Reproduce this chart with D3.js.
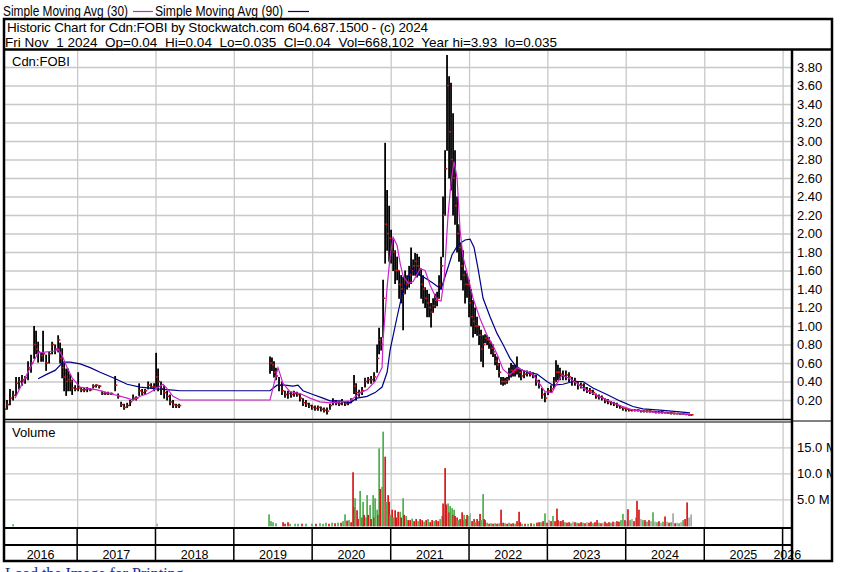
<!DOCTYPE html>
<html><head><meta charset="utf-8">
<script src="https://cdn.jsdelivr.net/npm/d3@7"></script>
<style>html,body{margin:0;padding:0;background:#fff;} svg{display:block;font-family:"Liberation Sans",Arial,sans-serif;}</style>
</head><body><svg id="c" width="841" height="572"></svg>
<script>
// ---------------- DATA ----------------
const title1 = "Historic Chart for Cdn:FOBI by Stockwatch.com 604.687.1500 - (c) 2024";
const title2 = "Fri Nov  1 2024  Op=0.04  Hi=0.04  Lo=0.035  Cl=0.04  Vol=668,102  Year hi=3.93  lo=0.035";
const legendLabels = ["Simple Moving Avg (30)", "Simple Moving Avg (90)"];
const symbolLabel = "Cdn:FOBI";
const volumeLabel = "Volume";
const footerLabel = "Load the Image for Printing";
const yearLabels = [2016, 2017, 2018, 2019, 2020, 2021, 2022, 2023, 2024, 2025, 2026];
const priceTicks = [0.2, 0.4, 0.6, 0.8, 1.0, 1.2, 1.4, 1.6, 1.8, 2.0, 2.2, 2.4, 2.6, 2.8, 3.0, 3.2, 3.4, 3.6, 3.8];
const volumeTicks = [5, 10, 15]; // millions

// [decimal year, high, low, close]
const priceBars = [
[2016.069,0.17,0.04,0.10],[2016.107,0.20,0.10,0.15],[2016.145,0.32,0.15,0.22],[2016.184,0.30,0.20,0.25],
[2016.222,0.45,0.25,0.38],[2016.260,0.45,0.32,0.40],[2016.298,0.47,0.36,0.42],[2016.337,0.46,0.38,0.44],
[2016.375,0.62,0.42,0.55],[2016.413,0.69,0.50,0.60],[2016.452,1.00,0.65,0.80],[2016.477,0.95,0.70,0.75],
[2016.503,0.83,0.61,0.72],[2016.541,0.72,0.62,0.68],[2016.566,0.95,0.62,0.70],[2016.605,0.69,0.52,0.60],
[2016.643,0.72,0.60,0.70],[2016.681,0.83,0.70,0.80],[2016.719,0.80,0.70,0.75],[2016.758,0.90,0.72,0.85],
[2016.783,0.82,0.60,0.65],[2016.809,0.76,0.44,0.55],[2016.834,0.60,0.30,0.45],[2016.860,0.54,0.25,0.40],
[2016.885,0.54,0.30,0.42],[2016.911,0.48,0.30,0.40],[2016.936,0.42,0.26,0.33],[2016.974,0.36,0.30,0.32],
[2017.013,0.50,0.30,0.33],[2017.051,0.34,0.29,0.31],[2017.089,0.33,0.29,0.31],[2017.128,0.34,0.29,0.32],
[2017.166,0.33,0.30,0.31],[2017.204,0.37,0.33,0.35],[2017.242,0.37,0.34,0.36],[2017.281,0.36,0.33,0.35],
[2017.319,0.30,0.26,0.27],[2017.357,0.29,0.26,0.27],[2017.395,0.29,0.26,0.27],[2017.434,0.28,0.26,0.27],
[2017.485,0.46,0.30,0.36],[2017.523,0.27,0.22,0.24],[2017.561,0.18,0.13,0.15],[2017.599,0.16,0.10,0.12],
[2017.638,0.17,0.12,0.14],[2017.676,0.20,0.14,0.18],[2017.714,0.26,0.20,0.22],[2017.753,0.24,0.20,0.22],
[2017.791,0.38,0.25,0.30],[2017.829,0.32,0.26,0.28],[2017.867,0.32,0.26,0.30],[2017.906,0.40,0.32,0.36],
[2017.944,0.38,0.33,0.34],[2017.982,0.38,0.30,0.34],[2018.008,0.71,0.34,0.45],[2018.033,0.54,0.30,0.40],
[2018.071,0.40,0.26,0.32],[2018.110,0.36,0.22,0.28],[2018.148,0.30,0.20,0.24],[2018.186,0.26,0.15,0.18],
[2018.224,0.20,0.12,0.15],[2018.263,0.16,0.12,0.14],[2018.301,0.16,0.12,0.14],
[2019.462,0.67,0.49,0.60],[2019.487,0.66,0.52,0.58],[2019.513,0.62,0.45,0.50],[2019.538,0.55,0.42,0.46],
[2019.577,0.45,0.30,0.36],[2019.615,0.40,0.26,0.30],[2019.653,0.30,0.23,0.26],[2019.691,0.30,0.22,0.27],
[2019.730,0.29,0.23,0.26],[2019.768,0.30,0.24,0.27],[2019.806,0.29,0.24,0.26],[2019.844,0.27,0.19,0.22],
[2019.883,0.22,0.14,0.17],[2019.921,0.20,0.13,0.16],[2019.959,0.17,0.12,0.14],[2019.997,0.15,0.10,0.12],
[2020.036,0.14,0.09,0.11],[2020.074,0.14,0.09,0.12],[2020.112,0.13,0.08,0.10],[2020.151,0.12,0.07,0.09],
[2020.189,0.12,0.05,0.08],[2020.227,0.16,0.10,0.14],[2020.265,0.22,0.15,0.19],[2020.304,0.20,0.15,0.17],
[2020.342,0.19,0.14,0.16],[2020.380,0.21,0.15,0.18],[2020.418,0.19,0.14,0.16],[2020.457,0.19,0.15,0.17],
[2020.495,0.22,0.17,0.20],[2020.533,0.47,0.27,0.35],[2020.559,0.38,0.20,0.28],[2020.597,0.31,0.24,0.28],
[2020.635,0.34,0.26,0.30],[2020.673,0.44,0.34,0.40],[2020.712,0.45,0.38,0.42],[2020.750,0.46,0.38,0.42],
[2020.788,0.50,0.40,0.45],[2020.827,0.80,0.50,0.65],[2020.852,0.98,0.70,0.85],[2020.878,0.88,0.74,0.80],
[2020.903,1.50,0.88,1.30],[2020.929,2.98,1.68,2.10],[2020.954,2.47,1.82,2.00],[2020.980,2.30,1.70,1.95],
[2021.005,2.04,1.68,1.85],[2021.031,1.95,1.60,1.80],[2021.056,1.82,1.46,1.60],[2021.082,1.75,1.50,1.60],
[2021.107,1.60,1.30,1.45],[2021.133,1.55,1.25,1.40],[2021.158,1.53,0.96,1.35],[2021.184,1.60,1.35,1.45],
[2021.209,1.55,1.40,1.48],[2021.235,1.65,1.42,1.55],[2021.260,1.85,1.46,1.60],[2021.286,1.72,1.55,1.65],
[2021.311,1.79,1.55,1.70],[2021.337,1.78,1.53,1.65],[2021.362,1.75,1.55,1.62],[2021.388,1.62,1.30,1.45],
[2021.413,1.55,1.25,1.40],[2021.439,1.42,1.20,1.30],[2021.464,1.39,1.10,1.25],[2021.490,1.35,1.10,1.20],
[2021.515,1.25,0.99,1.15],[2021.541,1.30,1.15,1.22],[2021.566,1.35,1.20,1.28],[2021.592,1.37,1.22,1.30],
[2021.617,1.55,1.30,1.45],[2021.643,1.75,1.40,1.65],[2021.668,2.40,1.75,2.20],[2021.694,2.90,2.20,2.70],
[2021.719,3.93,2.90,3.60],[2021.745,3.70,2.60,3.10],[2021.770,3.63,2.47,2.80],[2021.796,3.30,2.20,2.60],
[2021.821,2.90,2.10,2.30],[2021.847,2.40,1.80,2.00],[2021.872,2.10,1.70,1.85],[2021.898,1.90,1.50,1.65],
[2021.923,1.82,1.39,1.55],[2021.949,1.60,1.25,1.45],[2021.974,1.57,1.31,1.45],[2022.000,1.50,1.10,1.25],
[2022.026,1.40,1.00,1.10],[2022.051,1.28,0.88,1.05],[2022.077,1.20,0.92,1.00],[2022.102,1.10,0.90,1.00],
[2022.128,1.00,0.80,0.90],[2022.153,0.96,0.62,0.75],[2022.179,0.90,0.56,0.80],[2022.204,0.91,0.82,0.87],
[2022.230,0.90,0.80,0.85],[2022.255,0.88,0.76,0.82],[2022.281,0.83,0.70,0.76],[2022.306,0.80,0.67,0.72],
[2022.332,0.70,0.58,0.62],[2022.357,0.67,0.53,0.58],[2022.383,0.60,0.45,0.50],[2022.408,0.45,0.37,0.40],
[2022.434,0.45,0.36,0.40],[2022.459,0.44,0.37,0.40],[2022.485,0.45,0.38,0.42],[2022.510,0.55,0.42,0.48],
[2022.536,0.60,0.45,0.52],[2022.561,0.58,0.46,0.50],[2022.587,0.58,0.46,0.52],[2022.612,0.67,0.48,0.55],
[2022.638,0.55,0.45,0.50],[2022.663,0.53,0.42,0.46],[2022.702,0.52,0.44,0.48],[2022.740,0.52,0.46,0.49],
[2022.778,0.51,0.46,0.48],[2022.816,0.50,0.44,0.46],[2022.855,0.47,0.36,0.40],[2022.893,0.42,0.33,0.36],
[2022.931,0.33,0.22,0.26],[2022.969,0.28,0.18,0.22],[2023.008,0.33,0.26,0.30],[2023.046,0.36,0.28,0.32],
[2023.084,0.45,0.33,0.40],[2023.110,0.63,0.40,0.50],[2023.135,0.58,0.42,0.50],[2023.161,0.55,0.42,0.48],
[2023.199,0.52,0.42,0.46],[2023.237,0.52,0.42,0.47],[2023.276,0.50,0.40,0.45],[2023.314,0.45,0.36,0.40],
[2023.352,0.44,0.36,0.40],[2023.390,0.40,0.32,0.36],[2023.429,0.39,0.33,0.36],[2023.467,0.38,0.30,0.33],
[2023.505,0.34,0.28,0.30],[2023.543,0.33,0.27,0.30],[2023.582,0.31,0.26,0.28],[2023.620,0.27,0.22,0.24],
[2023.658,0.26,0.21,0.23],[2023.696,0.25,0.20,0.22],[2023.735,0.22,0.17,0.19],[2023.773,0.21,0.16,0.18],
[2023.811,0.19,0.15,0.17],[2023.849,0.18,0.14,0.16],[2023.888,0.17,0.12,0.14],[2023.926,0.14,0.11,0.12],
[2023.964,0.12,0.09,0.11],[2024.003,0.11,0.08,0.10],[2024.041,0.10,0.08,0.09],[2024.079,0.10,0.08,0.09],
[2024.117,0.10,0.08,0.09],[2024.156,0.10,0.08,0.09],[2024.194,0.09,0.07,0.08],[2024.232,0.09,0.07,0.08],
[2024.270,0.09,0.07,0.08],[2024.309,0.09,0.07,0.08],[2024.347,0.08,0.07,0.075],[2024.385,0.08,0.06,0.07],
[2024.423,0.08,0.06,0.07],[2024.462,0.08,0.06,0.07],[2024.500,0.07,0.06,0.065],[2024.538,0.07,0.055,0.06],
[2024.577,0.07,0.05,0.06],[2024.615,0.065,0.05,0.055],[2024.653,0.06,0.05,0.055],[2024.691,0.06,0.045,0.05],
[2024.730,0.055,0.045,0.05],[2024.768,0.05,0.04,0.045],[2024.806,0.05,0.035,0.04],[2024.835,0.045,0.035,0.04]
];

// Simple moving average (30) [decimal year, value]
const sma30 = [
[2016.209,0.22],[2016.362,0.48],[2016.503,0.71],[2016.719,0.73],[2016.758,0.75],[2016.809,0.68],
[2016.872,0.55],[2016.936,0.44],[2017.038,0.34],[2017.255,0.31],[2017.421,0.27],[2017.638,0.22],
[2017.714,0.20],[2017.804,0.24],[2017.906,0.27],[2018.020,0.33],[2018.097,0.37],[2018.161,0.31],
[2018.224,0.24],[2018.314,0.20],[2019.462,0.20],[2019.564,0.55],[2019.628,0.38],[2019.717,0.29],
[2019.844,0.27],[2019.972,0.22],[2020.099,0.18],[2020.227,0.17],[2020.355,0.18],[2020.482,0.19],
[2020.610,0.28],[2020.699,0.31],[2020.801,0.40],[2020.890,0.55],[2020.903,0.85],[2020.954,1.42],
[2020.992,1.75],[2021.031,1.96],[2021.082,1.87],[2021.120,1.68],[2021.158,1.54],[2021.222,1.46],
[2021.286,1.48],[2021.375,1.62],[2021.439,1.60],[2021.503,1.44],[2021.592,1.28],[2021.643,1.27],
[2021.681,1.50],[2021.732,2.20],[2021.770,2.55],[2021.809,2.78],[2021.847,2.60],[2021.885,2.04],
[2021.923,1.75],[2021.987,1.53],[2022.051,1.30],[2022.140,1.08],[2022.230,0.90],[2022.306,0.79],
[2022.370,0.67],[2022.434,0.53],[2022.523,0.47],[2022.612,0.55],[2022.689,0.52],[2022.804,0.49],
[2022.880,0.40],[2022.969,0.29],[2023.059,0.28],[2023.122,0.38],[2023.186,0.47],[2023.288,0.43],
[2023.378,0.38],[2023.454,0.33],[2023.582,0.27],[2023.709,0.22],[2023.837,0.17],[2023.964,0.13],
[2024.092,0.09],[2024.270,0.075],[2024.436,0.063],[2024.602,0.056],[2024.819,0.045]
];

// Simple moving average (90) [decimal year, value]
const sma90 = [
[2016.503,0.43],[2016.617,0.48],[2016.719,0.52],[2016.821,0.61],[2016.911,0.61],[2017.038,0.59],
[2017.166,0.55],[2017.293,0.50],[2017.459,0.44],[2017.638,0.37],[2017.804,0.34],[2018.020,0.32],
[2018.186,0.31],[2018.314,0.30],[2019.462,0.30],[2019.551,0.36],[2019.653,0.36],[2019.755,0.35],
[2019.819,0.36],[2019.883,0.30],[2020.010,0.26],[2020.138,0.22],[2020.227,0.19],[2020.355,0.19],
[2020.482,0.17],[2020.571,0.22],[2020.699,0.24],[2020.801,0.28],[2020.890,0.34],[2020.954,0.50],
[2020.992,0.74],[2021.082,1.10],[2021.158,1.39],[2021.222,1.53],[2021.273,1.62],[2021.337,1.57],
[2021.439,1.52],[2021.528,1.47],[2021.643,1.40],[2021.719,1.60],[2021.783,1.77],[2021.860,1.88],
[2021.949,1.93],[2022.013,1.94],[2022.064,1.85],[2022.115,1.62],[2022.179,1.30],[2022.268,1.10],
[2022.357,0.92],[2022.434,0.80],[2022.523,0.65],[2022.612,0.55],[2022.740,0.50],[2022.867,0.48],
[2022.995,0.40],[2023.071,0.36],[2023.199,0.37],[2023.327,0.40],[2023.454,0.40],[2023.582,0.33],
[2023.760,0.26],[2023.926,0.19],[2024.092,0.13],[2024.219,0.105],[2024.436,0.09],[2024.653,0.075],
[2024.819,0.06]
];

// Volume [decimal year, millions of shares, direction: u=up, d=down, n=unchanged]
const volumeBars = [
[2016.184,0.2,"u"],[2018.020,0.3,"n"],
[2019.449,2.1,"u"],[2019.474,0.8,"u"],[2019.500,0.6,"u"],[2019.538,0.4,"u"],[2019.628,0.6,"d"],[2019.653,0.3,"d"],
[2019.691,0.6,"d"],[2019.717,0.3,"u"],[2019.781,0.3,"u"],[2019.819,0.3,"u"],[2019.870,0.3,"d"],[2019.921,0.3,"u"],
[2019.997,0.3,"u"],[2020.048,0.3,"d"],[2020.099,0.4,"u"],[2020.138,0.3,"u"],[2020.176,0.5,"u"],[2020.214,0.3,"d"],
[2020.253,0.5,"u"],[2020.291,0.4,"d"],[2020.329,0.5,"u"],[2020.367,0.5,"d"],[2020.393,0.8,"u"],[2020.418,2.1,"u"],
[2020.444,0.9,"d"],[2020.469,1.0,"u"],[2020.495,0.6,"d"],[2020.520,10.2,"d"],[2020.533,3.5,"d"],[2020.546,5.2,"u"],
[2020.571,2.9,"d"],[2020.584,1.2,"d"],[2020.610,6.6,"u"],[2020.635,1.5,"d"],[2020.648,4.5,"u"],[2020.661,2.0,"d"],
[2020.686,1.5,"u"],[2020.699,5.8,"u"],[2020.712,2.0,"d"],[2020.737,3.9,"u"],[2020.750,1.2,"d"],[2020.776,5.8,"u"],
[2020.788,1.5,"d"],[2020.801,5.2,"u"],[2020.827,3.0,"u"],[2020.839,2.0,"d"],[2020.852,14.8,"u"],[2020.865,7.0,"d"],
[2020.890,7.4,"u"],[2020.903,18.0,"u"],[2020.929,13.2,"d"],[2020.941,4.5,"u"],[2020.967,5.8,"d"],[2020.980,4.5,"d"],
[2020.992,2.0,"u"],[2021.018,3.0,"d"],[2021.031,1.5,"u"],[2021.056,2.9,"d"],[2021.069,1.5,"d"],[2021.094,2.6,"d"],
[2021.120,2.6,"u"],[2021.133,1.5,"d"],[2021.158,5.2,"u"],[2021.171,2.0,"d"],[2021.196,1.8,"u"],[2021.222,1.0,"d"],
[2021.247,1.0,"d"],[2021.273,1.3,"u"],[2021.298,0.8,"d"],[2021.324,1.2,"d"],[2021.349,0.8,"u"],[2021.375,1.2,"d"],
[2021.401,1.0,"d"],[2021.426,0.7,"u"],[2021.452,1.0,"d"],[2021.477,1.2,"u"],[2021.503,0.6,"d"],[2021.528,1.0,"d"],
[2021.554,0.8,"u"],[2021.579,1.0,"d"],[2021.605,0.8,"d"],[2021.630,1.2,"u"],[2021.656,1.8,"u"],[2021.668,4.2,"d"],
[2021.694,11.0,"d"],[2021.707,4.0,"d"],[2021.732,4.2,"u"],[2021.745,2.5,"d"],[2021.758,3.7,"u"],[2021.783,3.3,"u"],
[2021.796,2.0,"d"],[2021.809,3.0,"u"],[2021.821,1.8,"d"],[2021.847,1.5,"d"],[2021.860,1.0,"u"],[2021.885,1.2,"d"],
[2021.911,2.5,"d"],[2021.923,1.0,"d"],[2021.936,2.0,"u"],[2021.962,1.2,"d"],[2021.974,2.0,"d"],[2022.000,1.8,"u"],
[2022.013,2.3,"n"],[2022.038,0.8,"d"],[2022.064,1.2,"d"],[2022.077,0.6,"u"],[2022.102,1.2,"d"],[2022.128,0.8,"d"],
[2022.140,2.2,"d"],[2022.153,1.0,"u"],[2022.179,6.0,"u"],[2022.191,1.2,"d"],[2022.204,1.0,"d"],[2022.230,0.5,"u"],
[2022.255,0.3,"d"],[2022.281,0.4,"u"],[2022.306,0.3,"d"],[2022.332,0.4,"u"],[2022.357,0.3,"d"],[2022.383,0.4,"u"],
[2022.408,3.0,"d"],[2022.434,0.5,"d"],[2022.459,0.4,"u"],[2022.485,0.3,"d"],[2022.510,0.5,"u"],[2022.536,0.3,"d"],
[2022.561,0.4,"d"],[2022.587,0.3,"u"],[2022.612,0.8,"d"],[2022.638,2.6,"d"],[2022.651,0.6,"d"],[2022.676,0.3,"u"],
[2022.714,0.3,"d"],[2022.753,0.3,"u"],[2022.791,0.4,"d"],[2022.829,0.3,"u"],[2022.867,0.5,"d"],[2022.893,0.6,"d"],
[2022.918,0.6,"u"],[2022.944,0.8,"d"],[2022.969,2.3,"u"],[2022.995,0.5,"d"],[2023.020,1.0,"n"],[2023.046,0.8,"d"],
[2023.071,1.8,"u"],[2023.097,0.8,"d"],[2023.122,3.2,"d"],[2023.135,1.0,"d"],[2023.161,0.8,"u"],[2023.173,0.8,"d"],
[2023.199,1.0,"d"],[2023.224,0.6,"u"],[2023.250,0.5,"d"],[2023.276,0.6,"d"],[2023.301,0.4,"u"],[2023.327,0.7,"n"],
[2023.352,0.6,"d"],[2023.378,0.5,"u"],[2023.403,0.4,"d"],[2023.429,0.6,"d"],[2023.454,0.5,"u"],[2023.480,0.4,"d"],
[2023.505,0.6,"n"],[2023.531,0.5,"d"],[2023.556,0.7,"d"],[2023.582,0.4,"u"],[2023.607,0.6,"d"],[2023.633,1.0,"d"],
[2023.658,0.5,"u"],[2023.684,0.4,"d"],[2023.709,0.5,"n"],[2023.735,0.7,"d"],[2023.760,0.4,"d"],[2023.786,0.6,"d"],
[2023.811,0.5,"u"],[2023.837,0.7,"d"],[2023.862,0.6,"n"],[2023.888,0.8,"d"],[2023.913,0.7,"d"],[2023.939,1.0,"u"],
[2023.964,2.2,"u"],[2023.990,1.0,"d"],[2024.015,0.8,"n"],[2024.028,3.1,"d"],[2024.054,1.0,"u"],[2024.079,1.2,"n"],
[2024.105,0.8,"d"],[2024.130,1.5,"u"],[2024.143,4.7,"d"],[2024.168,3.0,"d"],[2024.194,1.2,"n"],[2024.219,1.0,"u"],
[2024.245,1.0,"d"],[2024.270,0.7,"u"],[2024.296,1.0,"d"],[2024.321,0.8,"n"],[2024.347,2.5,"u"],[2024.372,0.7,"n"],
[2024.398,0.6,"u"],[2024.423,0.8,"d"],[2024.449,0.5,"n"],[2024.474,0.7,"u"],[2024.500,1.7,"d"],[2024.526,0.7,"n"],
[2024.551,0.5,"d"],[2024.577,0.6,"u"],[2024.602,2.3,"n"],[2024.628,0.4,"d"],[2024.653,0.5,"n"],[2024.679,0.4,"u"],
[2024.704,0.6,"n"],[2024.730,1.0,"u"],[2024.755,1.2,"d"],[2024.781,4.4,"d"],[2024.806,1.5,"n"],[2024.832,2.1,"n"]
];

// ---------------- DRAW ----------------
const svg = d3.select("#c");
const W = 841, H = 572;
const L = 4, R = 792, RR = 832, TOP = 19, HDR = 50;
const P_BOT = 419.5, V_TOP = 422, V_BOT = 528, ROW2 = 545, BOT = 561;
const FONT = '"Liberation Sans", Arial, sans-serif';
const magenta = "#cc22cc", navy = "#000088";
const volColor = {u: "#4fae4f", d: "#d81818", n: "#a8a8a8"};
const gridColor = "#c8c8c8";

function yd(y) { const yr = Math.floor(y); const s = Date.UTC(yr,0,1), e = Date.UTC(yr+1,0,1); return new Date(s + (y-yr)*(e-s)); }

const x = d3.scaleUtc().domain([new Date(Date.UTC(2016,0,1)), new Date(Date.UTC(2026,0,1))]).range([-1.4, 782.6]);
const yP = d3.scaleLinear().domain([0, 4]).range([418.5, 48.5]);
const yV = d3.scaleLinear().domain([0, 20]).range([525.3, 421.3]);

svg.append("rect").attr("width", W).attr("height", H).attr("fill", "#fff");

const defs = svg.append("defs");
defs.append("clipPath").attr("id","cp").append("rect").attr("x",L+1).attr("y",HDR+1).attr("width",R-L-2).attr("height",P_BOT-HDR-1.5);
defs.append("clipPath").attr("id","cv").append("rect").attr("x",L+1).attr("y",V_TOP+1).attr("width",R-L-2).attr("height",V_BOT-V_TOP-2);
defs.append("clipPath").attr("id","cr").append("rect").attr("x",R+1).attr("y",HDR).attr("width",RR-R-2).attr("height",BOT-HDR);

const yearBounds = yearLabels.slice(1).map(y => new Date(Date.UTC(y,0,1)));

// Grid: price panel
const gP = svg.append("g").attr("clip-path","url(#cp)");
gP.append("g").attr("transform",`translate(${R},0)`)
  .call(d3.axisLeft(yP).tickValues(priceTicks).tickSize(R-L).tickFormat(""))
  .call(g => g.select(".domain").remove())
  .call(g => g.selectAll("line").attr("stroke",gridColor).attr("stroke-width",1.3));
gP.append("g").attr("transform",`translate(0,${P_BOT})`)
  .call(d3.axisTop(x).tickValues(yearBounds).tickSize(P_BOT-HDR).tickFormat(""))
  .call(g => g.select(".domain").remove())
  .call(g => g.selectAll("line").attr("stroke",gridColor).attr("stroke-width",1.3));

// Grid: volume panel
const gV = svg.append("g").attr("clip-path","url(#cv)");
gV.append("g").attr("transform",`translate(${R},0)`)
  .call(d3.axisLeft(yV).tickValues(volumeTicks).tickSize(R-L).tickFormat(""))
  .call(g => g.select(".domain").remove())
  .call(g => g.selectAll("line").attr("stroke",gridColor).attr("stroke-width",1.3));
gV.append("g").attr("transform",`translate(0,${V_BOT})`)
  .call(d3.axisTop(x).tickValues(yearBounds).tickSize(V_BOT-V_TOP).tickFormat(""))
  .call(g => g.select(".domain").remove())
  .call(g => g.selectAll("line").attr("stroke",gridColor).attr("stroke-width",1.3));

// Price bars
gP.append("g").selectAll("line").data(priceBars).join("line")
  .attr("x1", d => x(yd(d[0]))).attr("x2", d => x(yd(d[0])))
  .attr("y1", d => yP(d[1])).attr("y2", d => yP(d[2]) + 0.5)
  .attr("stroke", "#000").attr("stroke-width", 1.8);
gP.append("g").selectAll("line").data(priceBars).join("line")
  .attr("x1", d => x(yd(d[0]))).attr("x2", d => x(yd(d[0])) + 2.2)
  .attr("y1", d => yP(d[3])).attr("y2", d => yP(d[3]))
  .attr("stroke", "#c81414").attr("stroke-width", 1.6);

// Moving averages
const line = d3.line().x(d => x(yd(d[0]))).y(d => yP(d[1]));
gP.append("path").datum(sma90).attr("d", line).attr("fill","none").attr("stroke",navy).attr("stroke-width",1.2);
gP.append("path").datum(sma30).attr("d", line).attr("fill","none").attr("stroke",magenta).attr("stroke-width",1.2);

// Volume bars
gV.append("g").selectAll("rect").data(volumeBars).join("rect")
  .attr("x", d => x(yd(d[0])) - 0.8).attr("width", 1.7)
  .attr("y", d => yV(d[1])).attr("height", d => yV(0) - yV(d[1]) + 1)
  .attr("fill", d => volColor[d[2]]);

// Right axes
const gR = svg.append("g").attr("clip-path","url(#cr)");
gR.append("g").attr("transform",`translate(${R},0)`)
  .call(d3.axisRight(yP).tickValues(priceTicks).tickFormat(d3.format(".2f")).tickSize(0).tickPadding(5))
  .call(g => g.select(".domain").remove())
  .call(g => g.selectAll("text").attr("font-family",FONT).attr("font-size",13).attr("fill","#000"));
gR.append("g").attr("transform",`translate(${R},0)`)
  .call(d3.axisRight(yV).tickValues(volumeTicks).tickFormat(d => d3.format(".1f")(d) + " M").tickSize(0).tickPadding(5))
  .call(g => g.select(".domain").remove())
  .call(g => g.selectAll("text").attr("font-family",FONT).attr("font-size",13).attr("fill","#000"));

// Frame lines
const fr = svg.append("g").attr("stroke","#000").attr("fill","none");
fr.append("rect").attr("x",L).attr("y",TOP).attr("width",RR-L).attr("height",BOT-TOP).attr("stroke-width",2.5);
fr.append("line").attr("x1",L).attr("x2",RR).attr("y1",HDR-0.5).attr("y2",HDR-0.5).attr("stroke-width",2.5);
fr.append("line").attr("x1",R).attr("x2",R).attr("y1",HDR).attr("y2",BOT).attr("stroke-width",2.5);
fr.append("line").attr("x1",L).attr("x2",R).attr("y1",P_BOT).attr("y2",P_BOT).attr("stroke-width",1.6);
fr.append("line").attr("x1",L).attr("x2",R).attr("y1",V_TOP).attr("y2",V_TOP).attr("stroke-width",1.2);
fr.append("line").attr("x1",R).attr("x2",RR).attr("y1",421).attr("y2",421).attr("stroke-width",1);
fr.append("line").attr("x1",L).attr("x2",R).attr("y1",V_BOT).attr("y2",V_BOT).attr("stroke-width",2);
fr.append("line").attr("x1",L).attr("x2",R).attr("y1",ROW2).attr("y2",ROW2).attr("stroke-width",2);
fr.selectAll("line.sep").data(yearBounds).join("line").attr("class","sep")
  .attr("x1", d => x(d)).attr("x2", d => x(d)).attr("y1", V_BOT).attr("y2", BOT).attr("stroke-width",1.5);

// Year labels
svg.append("g").selectAll("text").data(yearLabels).join("text")
  .attr("x", y => (Math.max(x(new Date(Date.UTC(y,0,1))), L) + Math.min(x(new Date(Date.UTC(y+1,0,1))), R)) / 2)
  .attr("y", 558.5).attr("text-anchor","middle")
  .attr("font-family",FONT).attr("font-size",12.5).attr("fill","#000").text(d => d);

// Header texts
const t = svg.append("g").attr("font-family",FONT).attr("font-size",13.5).attr("fill","#000");
t.append("text").attr("x",7).attr("y",32).attr("textLength",421).attr("lengthAdjust","spacing").text(title1);
t.append("text").attr("x",5).attr("y",46.5).style("white-space","pre").attr("xml:space","preserve")
  .attr("textLength",552).attr("lengthAdjust","spacing").text(title2);
t.append("text").attr("x",12).attr("y",66).attr("font-size",13).text(symbolLabel);
t.append("text").attr("x",12).attr("y",437).attr("font-size",13).text(volumeLabel);

// Legend
const lg = svg.append("g").attr("font-family",FONT).attr("font-size",14).attr("fill","#000");
lg.append("text").attr("x",3).attr("y",15.5).attr("textLength",125).attr("lengthAdjust","spacingAndGlyphs").text(legendLabels[0]);
lg.append("line").attr("x1",133).attr("x2",153).attr("y1",11.5).attr("y2",11.5).attr("stroke",magenta).attr("stroke-width",1.2);
lg.append("text").attr("x",155).attr("y",15.5).attr("textLength",128).attr("lengthAdjust","spacingAndGlyphs").text(legendLabels[1]);
lg.append("line").attr("x1",288).attr("x2",309).attr("y1",11.5).attr("y2",11.5).attr("stroke",navy).attr("stroke-width",1.2);

// Footer (partially visible)
svg.append("text").attr("x",5).attr("y",579).attr("font-family",'"Liberation Serif","Times New Roman",serif')
  .attr("font-size",16).attr("fill","#1c2c8c").text(footerLabel);
</script></body></html>
